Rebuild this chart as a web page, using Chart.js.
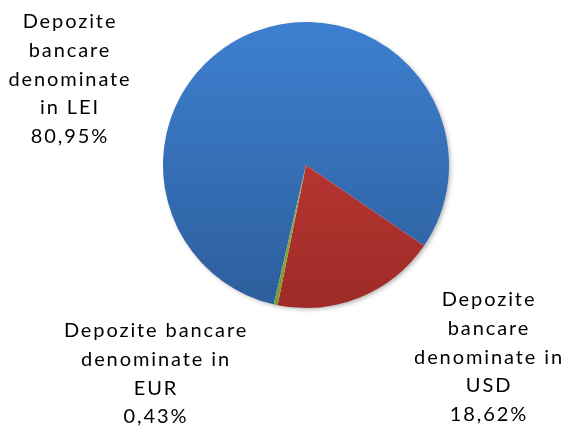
<!DOCTYPE html>
<html>
<head>
<meta charset="utf-8">
<script src="https://cdn.jsdelivr.net/npm/chart.js@4.4.1/dist/chart.umd.min.js"></script>
<style>
  html, body { margin: 0; padding: 0; background: #ffffff; }
  #wrap { width: 574px; height: 428px; position: relative; }
</style>
</head>
<body>
<div id="wrap"><canvas id="c" width="574" height="428"></canvas></div>
<script>
const categories = ["Depozite bancare denominate in LEI", "Depozite bancare denominate in USD", "Depozite bancare denominate in EUR"];
const shares = [80.95, 18.62, 0.43];
const percentLabels = ["80,95%", "18,62%", "0,43%"];
const labelLines = [
  ["Depozite", "bancare", "denominate", "in LEI"],
  ["Depozite", "bancare", "denominate in", "USD"],
  ["Depozite bancare", "denominate in", "EUR"]
];
const topColors = ["#3d80d0", "#cc413c", "#9cc046"];
const bottomColors = ["#2d5e9c", "#9e2a27", "#7c9a34"];

// label anchor (center x, first line y) per slice
const labelAnchors = [
  { x: 70, y: 22 },
  { x: 489, y: 300 },
  { x: 156, y: 331 }
];
const lineStep = 28.6;

function sliceFill(ctx) {
  const chart = ctx.chart;
  const area = chart.chartArea;
  const i = ctx.dataIndex;
  if (!area) return topColors[i];
  const g = chart.ctx.createLinearGradient(0, area.top, 0, area.bottom);
  g.addColorStop(0, topColors[i]);
  g.addColorStop(1, bottomColors[i]);
  return g;
}

const shadowPlugin = {
  id: 'pieShadow',
  beforeDatasetsDraw(chart) {
    const meta = chart.getDatasetMeta(0);
    const arc = meta.data[0];
    if (!arc) return;
    const c = chart.ctx;
    c.save();
    c.beginPath();
    c.arc(arc.x, arc.y, arc.outerRadius - 1, 0, Math.PI * 2);
    c.fillStyle = '#ffffff';
    c.shadowColor = 'rgba(0,0,0,0.35)';
    c.shadowBlur = 5;
    c.shadowOffsetX = 2;
    c.shadowOffsetY = 2;
    c.fill();
    c.restore();
  }
};

const labelPlugin = {
  id: 'sliceLabels',
  afterDatasetsDraw(chart) {
    const c = chart.ctx;
    c.save();
    c.font = '20px Lato';
    c.fillStyle = '#000000';
    c.textAlign = 'center';
    c.textBaseline = 'middle';
    try { c.letterSpacing = '1.9px'; } catch (e) {}
    labelLines.forEach((lines, i) => {
      const a = labelAnchors[i];
      const all = lines.concat([percentLabels[i]]);
      all.forEach((t, k) => {
        c.fillText(t, a.x, a.y + k * lineStep);
      });
    });
    c.restore();
  }
};

new Chart(document.getElementById('c'), {
  type: 'pie',
  data: {
    labels: categories,
    datasets: [{
      data: shares,
      backgroundColor: sliceFill,
      borderWidth: 0
    }]
  },
  options: {
    responsive: false,
    animation: false,
    rotation: 193,
    layout: { padding: { left: 163, right: 125, top: 22, bottom: 120 } },
    plugins: {
      legend: { display: false },
      tooltip: { enabled: false },
      title: { display: false }
    }
  },
  plugins: [shadowPlugin, labelPlugin]
});
</script>
</body>
</html>
